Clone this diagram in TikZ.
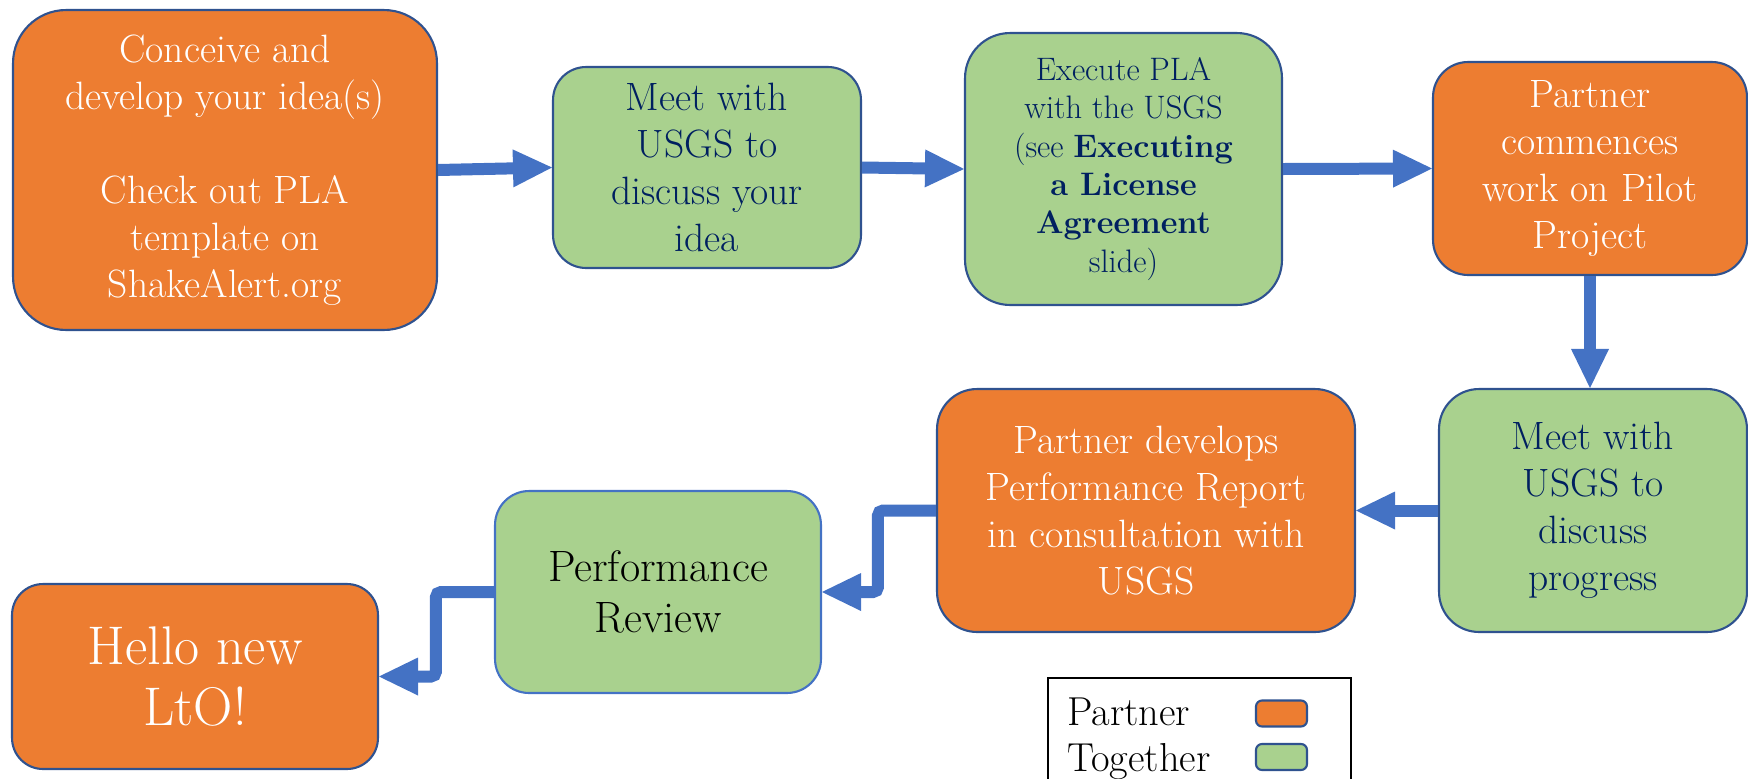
\documentclass[tikz,border=0pt]{standalone}
\usepackage{tikz}
\usetikzlibrary{arrows.meta,positioning}
\definecolor{partnerorange}{HTML}{ED7D31}
\definecolor{togethergreen}{HTML}{A9D18E}
\definecolor{boxline}{HTML}{2F528F}
\definecolor{flowblue}{HTML}{4472C4}
\definecolor{navytext}{HTML}{002060}
\tikzset{
  stage/.style={draw=boxline,line width=1.2pt,align=center,inner sep=0pt,font=\fontsize{22.5}{26.7}\selectfont},
  partner/.style={stage,fill=partnerorange,text=white},
  together/.style={stage,fill=togethergreen,text=navytext},
  flow/.style={flowblue,line width=0.24cm,-{Triangle[length=0.78cm,width=0.76cm,line width=0pt]}},
  swatch/.style={draw=boxline,line width=1.2pt,rounded corners=0.12cm,minimum width=1.02cm,minimum height=0.52cm}
}

\begin{document}
\begin{tikzpicture}[x=0.02cm,y=-0.02cm]
    \useasboundingbox (0,0) rectangle (1748,778);
    \node[partner,minimum width=8.48cm,minimum height=6.4cm,rounded corners=1.06cm] (conceive) at (225,170)
        {Conceive and\\develop your idea(s)\\[26.7pt]Check out PLA\\template on\\ShakeAlert.org};
    \node[together,minimum width=6.16cm,minimum height=4.02cm,rounded corners=0.66cm] (meet) at (707,167.5)
        {Meet with\\USGS to\\discuss your\\idea};
    \node[together,minimum width=6.34cm,minimum height=5.44cm,rounded corners=0.9cm,font=\fontsize{18.5}{21.8}\selectfont] (execute) at (1123.5,169)
        {Execute PLA\\with the USGS\\(see \textbf{Executing}\\\textbf{a License}\\\textbf{Agreement}\\slide)};
    \node[partner,minimum width=6.28cm,minimum height=4.26cm,rounded corners=0.7cm] (commence) at (1590,168.5)
        {Partner\\commences\\work on Pilot\\Project};
    \node[together,minimum width=6.16cm,minimum height=4.86cm,rounded corners=0.8cm] (progress) at (1593,510.5)
        {Meet with\\USGS to\\discuss\\progress};
    \node[partner,minimum width=8.36cm,minimum height=4.86cm,rounded corners=0.8cm] (report) at (1146,510.5)
        {Partner develops\\Performance Report\\in consultation with\\USGS};
    \node[together,draw=flowblue,text=black,minimum width=6.52cm,minimum height=4.04cm,rounded corners=0.68cm,font=\fontsize{25}{29}\selectfont] (review) at (658,592)
        {Performance\\Review};
    \node[partner,minimum width=7.32cm,minimum height=3.7cm,rounded corners=0.62cm,font=\fontsize{31}{35}\selectfont] (hello) at (195,676.5)
        {Hello new\\LtO!};

    \draw[flow] (conceive.east) -- (meet.west);
    \draw[flow] (meet.east) -- (execute.west);
    \draw[flow] (execute.east) -- (commence.west);
    \draw[flow] (commence.south) -- (commence.south |- progress.north);
    \draw[flow] (progress.west) -- (report.east);
    \draw[flow,rounded corners=0.1cm] (report.west) -- ++(-58,0) |- (review.east);
    \draw[flow,rounded corners=0.1cm] (review.west) -- ++(-58,0) |- (hello.east);

    \node[draw=black,line width=1pt,fill=white,minimum width=6.06cm,minimum height=2.6cm,inner sep=0pt] (legend) at (1199.5,743) {};
    \node[anchor=base west,inner sep=0pt,font=\fontsize{23}{27}\selectfont] (partnerkey) at (1067,725) {Partner};
    \node[anchor=base west,inner sep=0pt,font=\fontsize{23}{27}\selectfont] (togetherkey) at (1067,771) {Together};
    \node[swatch,fill=partnerorange] (partnerswatch) at (1281.5,713.5) {};
    \node[swatch,fill=togethergreen] (togetherswatch) at (1281.5,757) {};
\end{tikzpicture}
\end{document}
